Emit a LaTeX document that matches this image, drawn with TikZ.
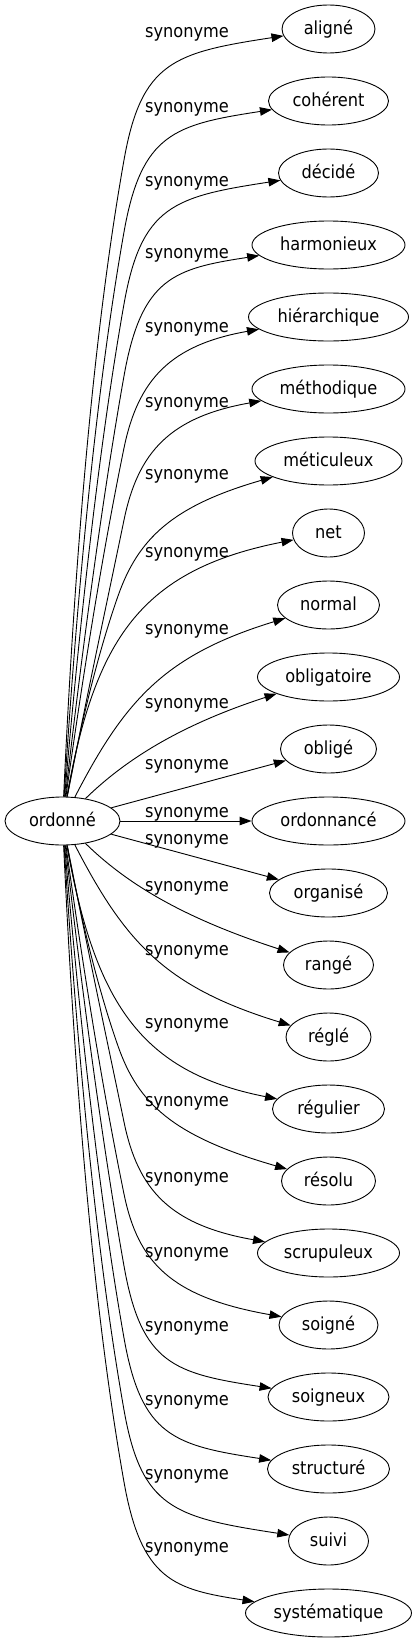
\documentclass[tikz,border=0pt]{standalone}
\usepackage{fontspec}
\setmainfont{DejaVu Sans Condensed}
\usetikzlibrary{arrows.meta, shapes.geometric}

\begin{document}
\begin{tikzpicture}[x=1pt, y=-1pt, line width=0.9pt,
        font=\fontsize{18}{20}\selectfont,
        mot/.style={draw, ellipse, minimum height=48pt, inner sep=0pt, text height=14pt, text depth=2.6pt},
        lien/.style={-{Triangle[length=12pt, width=8.5pt]}},
        etiq/.style={anchor=base}]
        \useasboundingbox (0, 0) rectangle (417, 1643);

        \node[mot, minimum width=115pt] at (62.5, 821)  (ordonne)      {ordonné};
        \node[mot, minimum width=93pt]  at (328.5, 29)   (aligne)       {aligné};
        \node[mot, minimum width=120pt] at (328.5, 101)  (coherent)     {cohérent};
        \node[mot, minimum width=100pt] at (328.5, 173)  (decide)       {décidé};
        \node[mot, minimum width=153pt] at (328.5, 245)  (harmonieux)   {harmonieux};
        \node[mot, minimum width=160pt] at (328.5, 317)  (hierarchique) {hiérarchique};
        \node[mot, minimum width=153pt] at (328.5, 389)  (methodique)   {méthodique};
        \node[mot, minimum width=147pt] at (328.5, 461)  (meticuleux)   {méticuleux};
        \node[mot, minimum width=72pt]  at (328.5, 533)  (net)          {net};
        \node[mot, minimum width=102pt] at (328.5, 605)  (normal)       {normal};
        \node[mot, minimum width=142pt] at (328.5, 677)  (obligatoire)  {obligatoire};
        \node[mot, minimum width=96pt]  at (328.5, 749)  (oblige)       {obligé};
        \node[mot, minimum width=153pt] at (328.5, 821)  (ordonnance)   {ordonnancé};
        \node[mot, minimum width=118pt] at (328.5, 893)  (organise)     {organisé};
        \node[mot, minimum width=90pt]  at (328.5, 965)  (range)        {rangé};
        \node[mot, minimum width=85pt]  at (328.5, 1037) (regle)        {réglé};
        \node[mot, minimum width=112pt] at (328.5, 1109) (regulier)     {régulier};
        \node[mot, minimum width=94pt]  at (328.5, 1181) (resolu)       {résolu};
        \node[mot, minimum width=142pt] at (328.5, 1253) (scrupuleux)   {scrupuleux};
        \node[mot, minimum width=99pt]  at (328.5, 1325) (soigne)       {soigné};
        \node[mot, minimum width=121pt] at (328.5, 1397) (soigneux)     {soigneux};
        \node[mot, minimum width=122pt] at (328.5, 1469) (structure)    {structuré};
        \node[mot, minimum width=80pt]  at (328.5, 1541) (suivi)        {suivi};
        \node[mot, minimum width=166pt] at (328.5, 1613) (systematique) {systématique};

        \node[etiq] at (187, 38)   (l1)  {synonyme};
        \node[etiq] at (187, 113)  (l2)  {synonyme};
        \node[etiq] at (187, 186)  (l3)  {synonyme};
        \node[etiq] at (187, 258)  (l4)  {synonyme};
        \node[etiq] at (187, 332)  (l5)  {synonyme};
        \node[etiq] at (187, 407)  (l6)  {synonyme};
        \node[etiq] at (187, 479)  (l7)  {synonyme};
        \node[etiq] at (187, 557)  (l8)  {synonyme};
        \node[etiq] at (187, 634)  (l9)  {synonyme};
        \node[etiq] at (187, 708)  (l10) {synonyme};
        \node[etiq] at (187, 769)  (l11) {synonyme};
        \node[etiq] at (187, 817)  (l12) {synonyme};
        \node[etiq] at (187, 844)  (l13) {synonyme};
        \node[etiq] at (187, 891)  (l14) {synonyme};
        \node[etiq] at (187, 955)  (l15) {synonyme};
        \node[etiq] at (187, 1028) (l16) {synonyme};
        \node[etiq] at (187, 1106) (l17) {synonyme};
        \node[etiq] at (187, 1182) (l18) {synonyme};
        \node[etiq] at (187, 1257) (l19) {synonyme};
        \node[etiq] at (187, 1331) (l20) {synonyme};
        \node[etiq] at (187, 1405) (l21) {synonyme};
        \node[etiq] at (187, 1479) (l22) {synonyme};
        \node[etiq] at (187, 1552) (l23) {synonyme};

        % upper half
        \draw[lien] (ordonne) .. controls (76, 530) and (96, 318) .. (124, 160) .. controls (141.4, 61.5) and (174.2, 52.6) .. (aligne);
        \draw[lien] (ordonne) .. controls (79.2, 560.6) and (99.2, 372.3) .. (124, 232) .. controls (141.4, 133.5) and (174.2, 124.6) .. (coherent);
        \draw[lien] (ordonne) .. controls (82.4, 590.7) and (102.4, 426.4) .. (124, 304) .. controls (141.4, 205.5) and (174.2, 196.6) .. (decide);
        \draw[lien] (ordonne) .. controls (85.5, 620.7) and (105.5, 480.4) .. (124, 376) .. controls (141.4, 277.5) and (174.2, 268.6) .. (harmonieux);
        \draw[lien] (ordonne) .. controls (86.3, 650.6) and (106.3, 534.3) .. (124, 448) .. controls (138, 380) and (170, 345) .. (hierarchique);
        \draw[lien] (ordonne) .. controls (89.9, 680.7) and (109.9, 588.4) .. (124, 520) .. controls (138, 452) and (170, 417) .. (methodique);
        \draw[lien] (ordonne) .. controls (83.2, 710.8) and (101.2, 643.8) .. (118, 596) .. controls (138, 539) and (172, 506) .. (meticuleux);
        \draw[lien] (ordonne) .. controls (95, 640) and (140, 570) .. (net);
        \draw[lien] (ordonne) .. controls (125, 700) and (165, 655) .. (normal);
        \draw[lien] (ordonne) .. controls (125, 760) and (180, 725) .. (obligatoire);
        \draw[lien] (ordonne) -- (oblige);
        \draw[lien] (ordonne) -- (ordonnance);
        % lower half
        \draw[lien] (ordonne) -- (organise);
        \draw[lien] (ordonne) .. controls (125, 882) and (180, 917) .. (range);
        \draw[lien] (ordonne) .. controls (125, 942) and (165, 987) .. (regle);
        \draw[lien] (ordonne) .. controls (95, 1002) and (140, 1072) .. (regulier);
        \draw[lien] (ordonne) .. controls (83.2, 931.2) and (101.2, 998.2) .. (118, 1046) .. controls (138, 1103) and (172, 1136) .. (resolu);
        \draw[lien] (ordonne) .. controls (89.9, 961.3) and (109.9, 1053.6) .. (124, 1122) .. controls (138, 1190) and (170, 1225) .. (scrupuleux);
        \draw[lien] (ordonne) .. controls (86.3, 991.4) and (106.3, 1107.7) .. (124, 1194) .. controls (138, 1262) and (170, 1297) .. (soigne);
        \draw[lien] (ordonne) .. controls (85.5, 1021.3) and (105.5, 1161.6) .. (124, 1266) .. controls (141.4, 1364.5) and (174.2, 1373.4) .. (soigneux);
        \draw[lien] (ordonne) .. controls (82.4, 1051.3) and (102.4, 1215.6) .. (124, 1338) .. controls (141.4, 1436.5) and (174.2, 1445.4) .. (structure);
        \draw[lien] (ordonne) .. controls (79.2, 1081.4) and (99.2, 1269.7) .. (124, 1410) .. controls (141.4, 1508.5) and (174.2, 1517.4) .. (suivi);
        \draw[lien] (ordonne) .. controls (76, 1112) and (96, 1324) .. (124, 1482) .. controls (141.4, 1580.5) and (174.2, 1589.4) .. (systematique);
    \end{tikzpicture}
\end{document}
